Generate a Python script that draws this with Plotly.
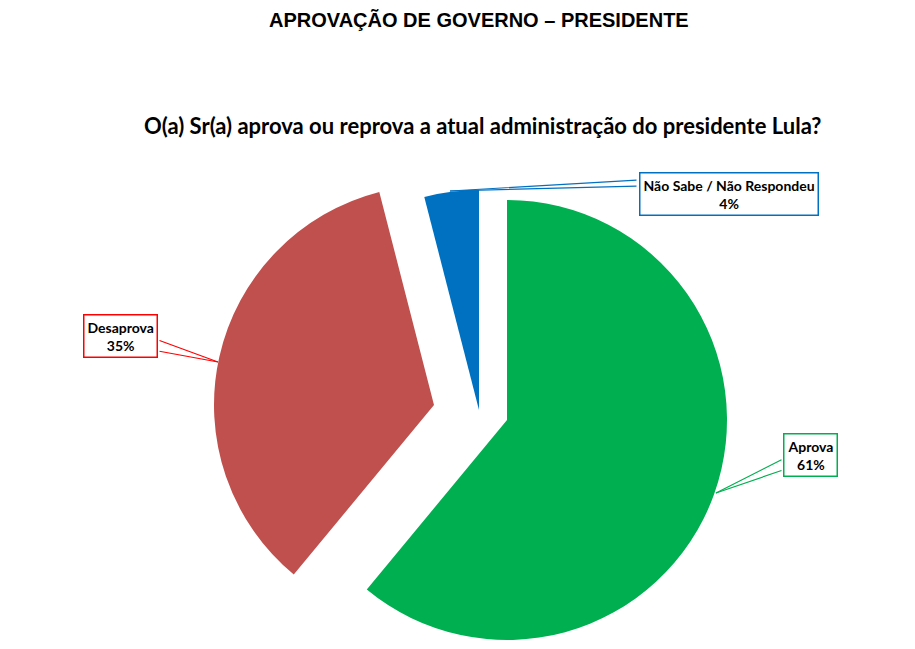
import plotly.graph_objects as go

# dados da pesquisa
categorias = ["Aprova", "Desaprova", "Não Sabe / Não Respondeu"]
valores = [61, 35, 4]
rotulos = ["Aprova<br>61%", "Desaprova<br>35%", "Não Sabe / Não Respondeu<br>4%"]

cores = ["#00B050", "#C0504D", "#0070C0"]
bordas = ["#00B050", "#FF0000", "#0070C0"]

# a pagina tem margem de 8px no body, entao a figura fica um pouco menor
OFF = 8
W, H = 915 - 2 * OFF, 649 - 2 * OFF

def px(x):
    return (x - OFF) / W

def py(y):
    return 1 - (y - OFF) / H

# cada fatia "explodida" fica num traço proprio, com centro e raio em pixels
centros = [(507, 420), (434, 405), (479, 410)]
raio = 220

fig = go.Figure()
for i, (cx, cy) in enumerate(centros):
    cols = ["rgba(0,0,0,0)"] * len(valores)
    cols[i] = cores[i]
    fig.add_trace(go.Pie(
        labels=categorias,
        values=valores,
        sort=False,
        direction="clockwise",
        rotation=0,
        textinfo="none",
        hoverinfo="label+percent",
        marker=dict(colors=cols, line=dict(width=0)),
        domain=dict(x=[px(cx - raio), px(cx + raio)],
                    y=[max(0, py(cy + raio)), py(cy - raio)]),
        showlegend=False,
    ))

# caixas dos rotulos (centro do texto) e ponta da seta
caixas = [(810, 455), (120, 336), (729, 194)]
pontas = [(716, 493), (218, 362), (450, 191)]
caudas = [[(783, 459), (783, 470)], [(158, 340), (158, 351)], [(638, 180), (638, 186)]]

for i in range(3):
    fig.add_annotation(
        x=px(caixas[i][0]), y=py(caixas[i][1]), xref="paper", yref="paper",
        xanchor="center", yanchor="middle",
        text="<b>" + rotulos[i] + "</b>", showarrow=False,
        font=dict(family="Lato", size=14, color="black"),
        bordercolor=bordas[i], borderwidth=1.5, borderpad=3,
        bgcolor="white",
    )
    for (tx, ty) in caudas[i]:
        fig.add_annotation(
            x=px(pontas[i][0]), y=py(pontas[i][1]), xref="paper", yref="paper",
            text="", showarrow=True, arrowhead=0, arrowwidth=1.2,
            arrowcolor=bordas[i],
            ax=tx - pontas[i][0], ay=ty - pontas[i][1],
            standoff=0, startstandoff=0,
        )

fig.add_annotation(
    x=px(479), y=py(20), xref="paper", yref="paper", showarrow=False,
    xanchor="center", yanchor="middle",
    text="<b>APROVAÇÃO DE GOVERNO – PRESIDENTE</b>",
    font=dict(family="Liberation Sans", size=20, color="black"),
)
fig.add_annotation(
    x=px(482), y=py(125), xref="paper", yref="paper", showarrow=False,
    xanchor="center", yanchor="middle",
    text="<b>O(a) Sr(a) aprova ou reprova a atual administração do presidente Lula?</b>",
    font=dict(family="Lato", size=22, color="black"),
)

fig.update_layout(
    width=W, height=H,
    margin=dict(l=0, r=0, t=0, b=0),
    paper_bgcolor="white",
    plot_bgcolor="white",
)

fig.write_html("out.html")
